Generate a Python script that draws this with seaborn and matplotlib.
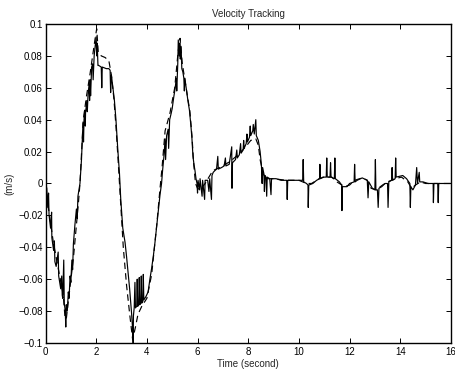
import numpy as np
import pandas as pd
import matplotlib
matplotlib.use("Agg")
import matplotlib.pyplot as plt
import seaborn as sns

# desired velocity (dashed)
t_desired = [0.00, 0.11, 0.31, 0.50, 0.70, 0.77, 0.82, 0.90, 1.10, 1.30, 1.36,
             1.49, 1.62, 1.76, 1.95, 2.02, 2.08, 2.20, 2.35, 2.50, 2.60, 2.70,
             2.78, 2.86, 2.95, 3.07, 3.20, 3.33, 3.44, 3.55, 3.65, 3.80, 4.00,
             4.19, 4.39, 4.52, 4.60, 4.72, 4.91, 5.10, 5.23, 5.31, 5.40, 5.50,
             5.60, 5.70, 5.78, 5.85, 5.92, 6.00, 6.10, 6.30, 6.60, 7.00, 7.30,
             7.60, 7.90, 8.10, 8.30, 8.40, 8.47, 8.58, 8.70, 9.00, 9.50, 10.00,
             10.30, 10.50, 10.80, 11.00, 11.30, 11.50, 11.80, 12.00, 12.20,
             12.50, 12.70, 12.85, 13.05, 13.30, 13.50, 13.80, 14.05, 14.30,
             14.45, 14.60, 14.80, 15.00, 16.00]
v_desired = [0.000, -0.015, -0.037, -0.053, -0.070, -0.084, -0.085, -0.074,
             -0.047, -0.012, 0.000, 0.040, 0.055, 0.069, 0.090, 0.097, 0.083,
             0.080, 0.079, 0.077, 0.068, 0.053, 0.036, 0.016, -0.008, -0.040,
             -0.064, -0.083, -0.098, -0.090, -0.082, -0.077, -0.072, -0.057,
             -0.026, -0.003, 0.010, 0.033, 0.044, 0.060, 0.082, 0.091, 0.075,
             0.065, 0.055, 0.045, 0.030, 0.012, 0.000, -0.003, -0.004, 0.000,
             0.008, 0.011, 0.014, 0.018, 0.023, 0.027, 0.028, 0.024, 0.015,
             0.0065, 0.003, 0.003, 0.002, 0.002, 0.000, 0.000, 0.003, 0.004,
             0.004, 0.001, -0.002, -0.001, 0.002, 0.0035, 0.002, -0.003,
             -0.004, -0.001, 0.001, 0.003, 0.004, 0.001, -0.003, -0.001,
             0.001, 0.000, 0.000]

# measured velocity (solid, with spikes)
t_actual = [0.00, 0.05, 0.09, 0.12, 0.14, 0.20, 0.24, 0.25, 0.32, 0.35, 0.37,
            0.42, 0.50, 0.52, 0.60, 0.64, 0.66, 0.68, 0.72, 0.74, 0.78, 0.80,
            0.82, 0.86, 0.90, 0.93, 0.97, 1.00, 1.04, 1.07, 1.10, 1.16, 1.22,
            1.25, 1.28, 1.36,
            1.42, 1.48, 1.50, 1.52, 1.55, 1.57, 1.58, 1.63, 1.65, 1.68, 1.72,
            1.74, 1.76, 1.78, 1.82, 1.86, 1.88, 1.92, 1.96, 2.00, 2.02, 2.04,
            2.07,
            2.10, 2.20, 2.22, 2.24, 2.40, 2.50, 2.55, 2.57, 2.60, 2.66, 2.72,
            2.78, 2.85, 2.92, 2.97, 3.05, 3.14, 3.20, 3.26, 3.32, 3.36, 3.40,
            3.44, 3.46, 3.47, 3.50, 3.53, 3.55, 3.60, 3.62, 3.64, 3.68, 3.70,
            3.72, 3.76, 3.78, 3.80, 3.84, 3.86, 3.88, 3.96, 4.05, 4.12, 4.19,
            4.26, 4.32, 4.40, 4.46, 4.52, 4.58,
            4.62, 4.68, 4.72, 4.74, 4.78, 4.84, 4.86, 4.90, 4.96, 5.00, 5.06,
            5.12, 5.16, 5.18, 5.22, 5.24, 5.28, 5.30, 5.32, 5.35, 5.38, 5.42,
            5.46, 5.48, 5.50, 5.57, 5.62, 5.68, 5.74, 5.78, 5.82, 5.86, 5.90,
            5.94,
            5.98, 6.00, 6.02, 6.08, 6.10, 6.18, 6.20, 6.28, 6.30, 6.40, 6.45,
            6.48, 6.55, 6.57, 6.62, 6.68,
            6.75, 6.80, 6.82, 6.95, 7.05, 7.10, 7.12, 7.25, 7.35, 7.36, 7.38,
            7.50, 7.55, 7.57, 7.65, 7.70, 7.72, 7.80, 7.82, 7.84, 7.92, 7.95,
            7.97, 8.05, 8.08, 8.10, 8.18, 8.20, 8.24, 8.30, 8.32, 8.40, 8.47,
            8.52, 8.55, 8.57, 8.62, 8.64, 8.66, 8.70, 8.73, 8.75, 8.85, 8.90,
            8.92,
            9.10, 9.30, 9.52, 9.54, 9.56, 9.80, 10.00, 10.15, 10.17, 10.19,
            10.30, 10.36, 10.37, 10.39, 10.55, 10.70, 10.82, 10.83, 10.85,
            10.95, 11.08, 11.10, 11.12, 11.23, 11.25, 11.27, 11.40, 11.42,
            11.44, 11.60, 11.69, 11.70, 11.72, 11.90, 12.00, 12.18, 12.20,
            12.22, 12.30, 12.50, 12.70, 12.73, 12.76, 12.90, 13.00, 13.02,
            13.04, 13.10, 13.13, 13.16, 13.27, 13.40, 13.50, 13.52, 13.55,
            13.66, 13.68, 13.70, 13.80, 13.82, 13.84, 14.10, 14.25, 14.38,
            14.40, 14.42, 14.50, 14.60, 14.65, 14.68, 14.75, 14.77, 14.90,
            15.10, 15.30, 15.31, 15.33, 15.48, 15.50, 15.52, 16.00]
v_actual = [0.000, -0.003, -0.015, -0.006, -0.020, -0.028, -0.018, -0.034,
            -0.042, -0.036, -0.049, -0.052, -0.043, -0.058, -0.066, -0.058,
            -0.070, -0.072, -0.048, -0.075, -0.080, -0.090, -0.076, -0.080,
            -0.068, -0.072, -0.058, -0.062, -0.048, -0.054, -0.038, -0.026,
            -0.016, -0.022, -0.008, 0.000,
            0.015, 0.038, 0.026, 0.040, 0.046, 0.036, 0.044, 0.052, 0.045,
            0.056, 0.062, 0.052, 0.065, 0.055, 0.073, 0.075, 0.065, 0.080,
            0.086, 0.092, 0.080, 0.088, 0.074,
            0.074, 0.073, 0.060, 0.073, 0.072, 0.072, 0.071, 0.057, 0.068,
            0.060, 0.052, 0.040, 0.022, 0.006, -0.010, -0.028, -0.037, -0.046,
            -0.056, -0.066, -0.074, -0.082, -0.092, -0.100, -0.083, -0.078,
            -0.062, -0.078, -0.077, -0.060, -0.077, -0.076, -0.059, -0.076,
            -0.075, -0.058, -0.075, -0.074, -0.057, -0.073, -0.071, -0.068,
            -0.060, -0.053, -0.045, -0.037, -0.025, -0.016, -0.007, 0.000,
            0.008, 0.018, 0.028, 0.015, 0.030, 0.034, 0.022, 0.040, 0.044,
            0.047, 0.054, 0.060, 0.066, 0.058, 0.075, 0.090, 0.080, 0.088,
            0.078, 0.086, 0.072, 0.070, 0.066, 0.058, 0.066, 0.058, 0.052,
            0.046, 0.036, 0.028, 0.017, 0.012, 0.008, 0.003,
            0.000, -0.006, 0.002, -0.004, 0.003, -0.008, 0.002, -0.010, 0.002,
            0.002, -0.005, 0.003, -0.010, 0.005, 0.007, 0.008,
            0.009, 0.017, 0.009, 0.010, 0.011, 0.016, 0.011, 0.012, 0.023,
            -0.003, 0.013, 0.015, 0.021, 0.016, 0.018, 0.025, 0.019, 0.021,
            0.027, 0.022, 0.025, 0.031, 0.026, 0.029, 0.036, 0.030, 0.033,
            0.037, 0.031, 0.040, 0.030, 0.027, 0.020, 0.012, 0.000, 0.010,
            0.006, -0.005, 0.005, 0.004, -0.008, 0.004, 0.003, -0.007, 0.003,
            0.003, 0.002, 0.002, -0.010, 0.002, 0.002, 0.002, 0.002, 0.015,
            0.001, 0.000, -0.001, -0.015, -0.001, 0.000, 0.002, 0.003, 0.012,
            0.003, 0.004, 0.004, 0.016, 0.004, 0.004, 0.013, 0.004, 0.003,
            0.016, 0.003, 0.001, -0.001, -0.017, -0.002, -0.002, 0.000, 0.001,
            0.012, 0.001, 0.002, 0.0035, 0.002, -0.009, 0.001, -0.003, -0.004,
            0.015, -0.004, -0.004, -0.015, -0.003, -0.002, 0.000, 0.000,
            -0.015, 0.001, 0.002, 0.010, 0.002, 0.003, 0.016, 0.004, 0.005,
            0.003, 0.000, -0.015, -0.002, -0.004, -0.001, 0.010, 0.000, 0.007,
            0.001, 0.001, 0.000, 0.000, -0.012, 0.000, 0.000, -0.012, 0.000,
            0.000]

x_ticks = [0, 2, 4, 6, 8, 10, 12, 14, 16]
y_ticks = [0.1, 0.08, 0.06, 0.04, 0.02, 0, -0.02, -0.04, -0.06, -0.08, -0.1]
y_tick_labels = ["0.1", "0.08", "0.06", "0.04", "0.02", "0",
                 "\u22120.02", "\u22120.04", "\u22120.06", "\u22120.08", "\u22120.1"]

desired = pd.DataFrame({"t": t_desired, "v": v_desired})
actual = pd.DataFrame({"t": t_actual, "v": v_actual})

sns.set_style("ticks")
plt.rcParams["font.family"] = ["Liberation Sans", "DejaVu Sans"]

fig = plt.figure(figsize=(4.56, 3.69), dpi=100)
ax = fig.add_axes([0.0998, 0.0705, 0.889, 0.8645])

sns.lineplot(data=actual, x="t", y="v", ax=ax, color="k", lw=0.85,
             estimator=None, sort=False)
sns.lineplot(data=desired, x="t", y="v", ax=ax, color="k", lw=0.85,
             estimator=None, sort=False, linestyle=(0, (5.5, 3.5)))

ax.set_xlim(0, 16)
ax.set_ylim(-0.1, 0.1)
ax.set_xticks(x_ticks)
ax.set_xticklabels([str(x) for x in x_ticks])
ax.set_yticks(y_ticks)
ax.set_yticklabels(y_tick_labels)
ax.tick_params(direction="in", top=True, right=True, length=3.3, width=0.7,
               labelsize=7, colors="k")
ax.tick_params(axis="y", pad=2)
ax.tick_params(axis="x", pad=3)
for s in ax.spines.values():
    s.set_visible(True)
    s.set_linewidth(1.0)
    s.set_color("k")

ax.set_title("Velocity Tracking", fontsize=7, pad=5)
ax.set_xlabel("Time (second)", fontsize=7, labelpad=1)
ax.set_ylabel("(m/s)", fontsize=7, labelpad=3)

fig.savefig("out.png", dpi=100)
